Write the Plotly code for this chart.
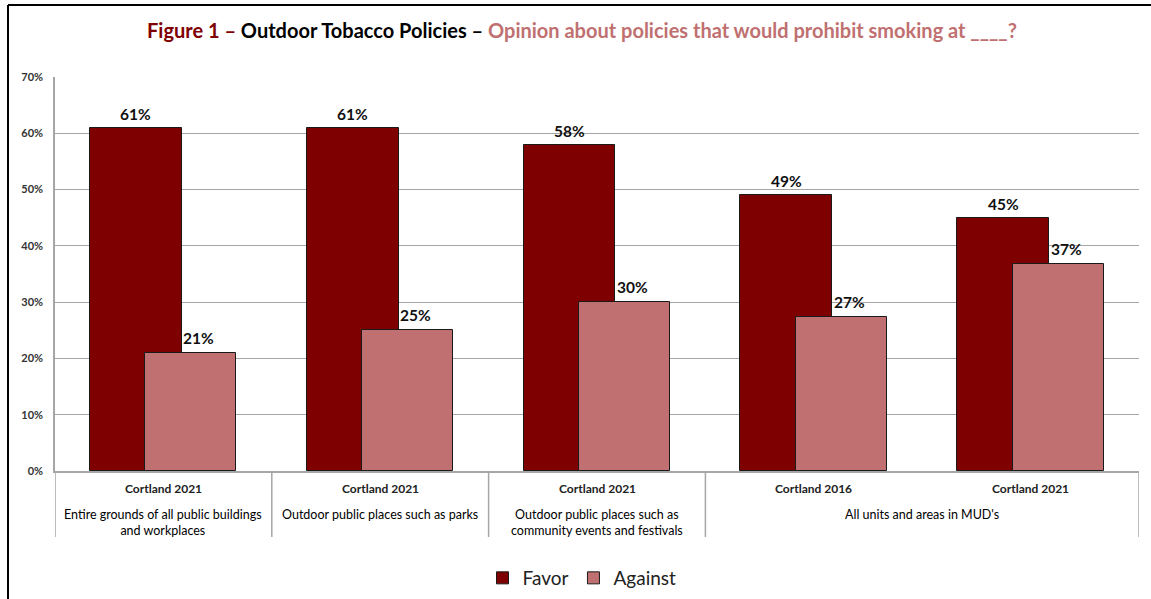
import plotly.graph_objects as go

# ---- data ----
level1 = ["Cortland 2021", "Cortland 2021", "Cortland 2021", "Cortland 2016", "Cortland 2021"]
group_labels = ["Entire grounds of all public buildings<br>and workplaces",
                "Outdoor public places such as parks",
                "Outdoor public places such as<br>community events and festivals",
                "All units and areas in MUD's"]
group_centers = [0, 1, 2, 3.5]
favor = [61, 61, 58, 49, 45]
against = [21, 25, 30, 27.4, 36.7]
y_ticks = [0, 10, 20, 30, 40, 50, 60, 70]

FAVOR_C = "#7F0000"
AGAINST_C = "#C07070"
FONT = "Lato"

W, H = 1151, 599
L, R, T, B = 55, 12, 77, 128
PW, PH = W - L - R, H - T - B


def px_x(p):
    return (p - L) / PW


def px_y(p):
    return (H - B - p) / PH


xs = list(range(len(level1)))
F_OFF, F_W = -0.339, 0.424
A_OFF, A_W = -0.083, 0.42

fig = go.Figure()
fig.add_trace(go.Bar(
    x=xs, y=favor, name="Favor", offset=F_OFF, width=F_W,
    marker=dict(color=FAVOR_C, line=dict(color="#1a1a1a", width=1)),
))
fig.add_trace(go.Bar(
    x=xs, y=against, name="Against", offset=A_OFF, width=A_W,
    marker=dict(color=AGAINST_C, line=dict(color="#1a1a1a", width=1)),
))

annotations = []
# data labels
for i, v in enumerate(favor):
    annotations.append(dict(x=i + F_OFF + F_W / 2, y=v, xref="x", yref="y",
                            text="<b>%d%%</b>" % round(v), showarrow=False, yshift=14,
                            font=dict(family=FONT, size=15.5, color="#111"), yanchor="middle"))
for i, v in enumerate(against):
    annotations.append(dict(x=i + A_OFF + A_W / 2, y=v, xref="x", yref="y",
                            text="<b>%d%%</b>" % round(v), showarrow=False, yshift=15, xshift=8,
                            font=dict(family=FONT, size=15.5, color="#111"), yanchor="middle"))

shapes = []
# category separators
for xv in [-0.5, 0.5, 1.5, 2.5, 4.5]:
    shapes.append(dict(type="line", xref="x", yref="paper", x0=xv, x1=xv,
                       y0=0, y1=px_y(537), line=dict(color="#A6A6A6", width=1.5)))
# outer frame (left and top)
shapes.append(dict(type="line", xref="paper", yref="paper", x0=px_x(8), x1=px_x(8),
                   y0=px_y(5), y1=px_y(620), line=dict(color="#000", width=2)))
shapes.append(dict(type="line", xref="paper", yref="paper", x0=px_x(8), x1=px_x(1170),
                   y0=px_y(5), y1=px_y(5), line=dict(color="#000", width=2)))

for i, t in enumerate(level1):
    annotations.append(dict(x=i, y=px_y(488), xref="x", yref="paper", text="<b>" + t + "</b>",
                            showarrow=False, font=dict(family=FONT, size=12, color="#222"),
                            yanchor="middle"))
for c, t in zip(group_centers, group_labels):
    annotations.append(dict(x=c, y=px_y(505), xref="x", yref="paper", text=t,
                            showarrow=False, font=dict(family=FONT, size=12.5, color="#000"),
                            yanchor="top", align="center"))
annotations.append(dict(
    x=px_x(582), y=px_y(30), xref="paper", yref="paper", showarrow=False,
    text=("<b><span style='color:%s'>Figure 1 – </span>"
          "<span style='color:#000'>Outdoor Tobacco Policies – </span>"
          "<span style='color:%s'>Opinion about policies that would prohibit smoking at ____?</span></b>")
         % (FAVOR_C, AGAINST_C),
    font=dict(family=FONT, size=20), xanchor="center", yanchor="middle"))

fig.update_layout(
    width=W, height=H, margin=dict(l=L, r=R, t=T, b=B, autoexpand=False),
    paper_bgcolor="white", plot_bgcolor="white",
    barmode="overlay", bargap=0,
    showlegend=True,
    legend=dict(orientation="h", x=px_x(582), xanchor="center", y=px_y(578), yanchor="middle",
                font=dict(family=FONT, size=19, color="#222"), itemwidth=30),
    shapes=shapes, annotations=annotations,
    font=dict(family=FONT),
)
fig.update_xaxes(range=[-0.5, 4.5], showticklabels=False, showgrid=False, zeroline=False,
                 showline=True, linecolor="#A6A6A6", linewidth=1.5)
fig.update_yaxes(range=[0, 70], tickvals=y_ticks, ticktext=["<b>%d%%</b>" % v for v in y_ticks],
                 showgrid=True, gridcolor="#A6A6A6", gridwidth=1, zeroline=False,
                 showline=True, linecolor="#A6A6A6", linewidth=1.5,
                 tickfont=dict(family=FONT, size=11, color="#333"), ticklabelstandoff=8)

fig.write_html("out.html", config={"displayModeBar": False},
               post_script="document.body.style.margin='0';document.body.style.overflow='hidden';")
